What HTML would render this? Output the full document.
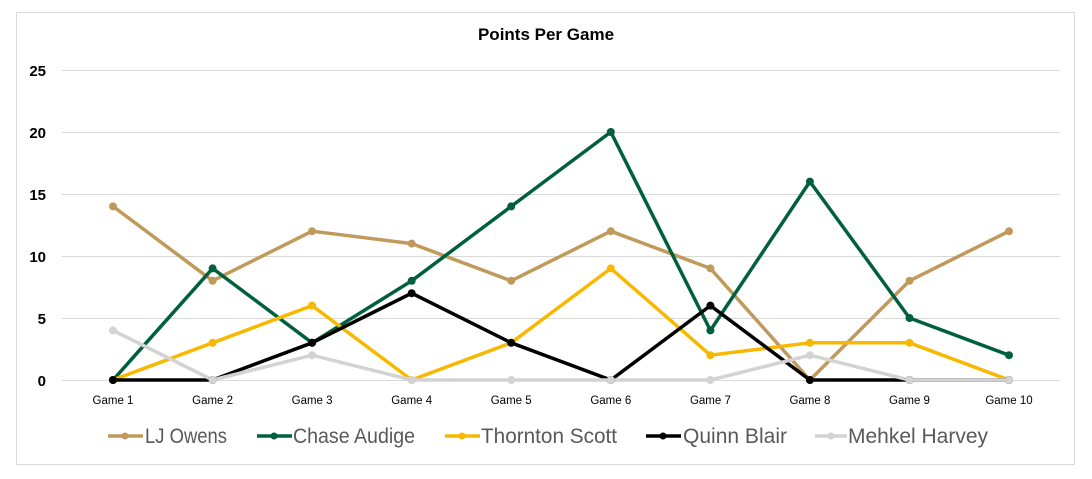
<!DOCTYPE html>
<html><head><meta charset="utf-8"><style>
body{margin:0;background:#fff;}
svg{display:block;font-family:"Liberation Sans",Calibri,sans-serif;}
</style></head><body>
<svg width="1092" height="479" viewBox="0 0 1092 479" xmlns="http://www.w3.org/2000/svg">
<rect x="0" y="0" width="1092" height="479" fill="#fff"/>
<rect x="16.5" y="12.5" width="1058" height="452" fill="#fff" stroke="#d9d9d9" stroke-width="1"/>
<text x="546" y="40" text-anchor="middle" font-size="17" font-weight="bold" fill="#000">Points Per Game</text>
<g stroke="#d9d9d9" stroke-width="1">
<line x1="62" y1="70.5" x2="1060" y2="70.5"/>
<line x1="62" y1="132.5" x2="1060" y2="132.5"/>
<line x1="62" y1="194.5" x2="1060" y2="194.5"/>
<line x1="62" y1="256.5" x2="1060" y2="256.5"/>
<line x1="62" y1="318.5" x2="1060" y2="318.5"/>
<line x1="62" y1="380.5" x2="1060" y2="380.5"/>
</g>
<g font-size="15" font-weight="bold" text-anchor="end" fill="#000">
<text x="46" y="76">25</text><text x="46" y="138">20</text><text x="46" y="200">15</text>
<text x="46" y="262">10</text><text x="46" y="324">5</text><text x="46" y="386">0</text>
</g>
<g font-size="11.5" text-anchor="middle" fill="#000">
<text x="113" y="404">Game 1</text><text x="212.6" y="404">Game 2</text><text x="312.1" y="404">Game 3</text>
<text x="411.7" y="404">Game 4</text><text x="511.2" y="404">Game 5</text><text x="610.8" y="404">Game 6</text>
<text x="710.4" y="404">Game 7</text><text x="809.9" y="404">Game 8</text><text x="909.5" y="404">Game 9</text>
<text x="1009" y="404">Game 10</text>
</g>
<g fill="none" stroke-width="3.5" stroke-linejoin="round">
<polyline stroke="#C09A5B" points="113,206.4 212.6,280.8 312.1,231.2 411.7,243.6 511.2,280.8 610.8,231.2 710.4,268.4 809.9,380 909.5,280.8 1009,231.2"/>
<polyline stroke="#00603E" points="113,380 212.6,268.4 312.1,342.8 411.7,280.8 511.2,206.4 610.8,132 710.4,330.4 809.9,181.6 909.5,318 1009,355.2"/>
<polyline stroke="#F9B800" points="113,380 212.6,342.8 312.1,305.6 411.7,380 511.2,342.8 610.8,268.4 710.4,355.2 809.9,342.8 909.5,342.8 1009,380"/>
<polyline stroke="#000" points="113,380 212.6,380 312.1,342.8 411.7,293.2 511.2,342.8 610.8,380 710.4,305.6 809.9,380 909.5,380 1009,380"/>
<polyline stroke="#D3D3D3" points="113,330.4 212.6,380 312.1,355.2 411.7,380 511.2,380 610.8,380 710.4,380 809.9,355.2 909.5,380 1009,380"/>
</g>
<g fill="#C09A5B"><circle cx="113" cy="206.4" r="4"/><circle cx="212.6" cy="280.8" r="4"/><circle cx="312.1" cy="231.2" r="4"/><circle cx="411.7" cy="243.6" r="4"/><circle cx="511.2" cy="280.8" r="4"/><circle cx="610.8" cy="231.2" r="4"/><circle cx="710.4" cy="268.4" r="4"/><circle cx="809.9" cy="380" r="4"/><circle cx="909.5" cy="280.8" r="4"/><circle cx="1009" cy="231.2" r="4"/></g>
<g fill="#00603E"><circle cx="113" cy="380" r="4"/><circle cx="212.6" cy="268.4" r="4"/><circle cx="312.1" cy="342.8" r="4"/><circle cx="411.7" cy="280.8" r="4"/><circle cx="511.2" cy="206.4" r="4"/><circle cx="610.8" cy="132" r="4"/><circle cx="710.4" cy="330.4" r="4"/><circle cx="809.9" cy="181.6" r="4"/><circle cx="909.5" cy="318" r="4"/><circle cx="1009" cy="355.2" r="4"/></g>
<g fill="#F9B800"><circle cx="113" cy="380" r="4"/><circle cx="212.6" cy="342.8" r="4"/><circle cx="312.1" cy="305.6" r="4"/><circle cx="411.7" cy="380" r="4"/><circle cx="511.2" cy="342.8" r="4"/><circle cx="610.8" cy="268.4" r="4"/><circle cx="710.4" cy="355.2" r="4"/><circle cx="809.9" cy="342.8" r="4"/><circle cx="909.5" cy="342.8" r="4"/><circle cx="1009" cy="380" r="4"/></g>
<g fill="#000"><circle cx="113" cy="380" r="4"/><circle cx="212.6" cy="380" r="4"/><circle cx="312.1" cy="342.8" r="4"/><circle cx="411.7" cy="293.2" r="4"/><circle cx="511.2" cy="342.8" r="4"/><circle cx="610.8" cy="380" r="4"/><circle cx="710.4" cy="305.6" r="4"/><circle cx="809.9" cy="380" r="4"/><circle cx="909.5" cy="380" r="4"/><circle cx="1009" cy="380" r="4"/></g>
<g fill="#D3D3D3"><circle cx="113" cy="330.4" r="4"/><circle cx="212.6" cy="380" r="4"/><circle cx="312.1" cy="355.2" r="4"/><circle cx="411.7" cy="380" r="4"/><circle cx="511.2" cy="380" r="4"/><circle cx="610.8" cy="380" r="4"/><circle cx="710.4" cy="380" r="4"/><circle cx="809.9" cy="355.2" r="4"/><circle cx="909.5" cy="380" r="4"/><circle cx="1009" cy="380" r="4"/></g>
<g stroke-width="3.5" font-size="21" fill="#595959">
<line x1="108" y1="436" x2="143" y2="436" stroke="#C09A5B"/><circle cx="125" cy="436" r="3.5" fill="#C09A5B"/>
<text x="145" y="443" textLength="82" lengthAdjust="spacingAndGlyphs">LJ Owens</text>
<line x1="257" y1="436" x2="292" y2="436" stroke="#00603E"/><circle cx="274" cy="436" r="3.5" fill="#00603E"/>
<text x="293" y="443" textLength="122" lengthAdjust="spacingAndGlyphs">Chase Audige</text>
<line x1="445" y1="436" x2="480" y2="436" stroke="#F9B800"/><circle cx="462" cy="436" r="3.5" fill="#F9B800"/>
<text x="481" y="443" textLength="136" lengthAdjust="spacingAndGlyphs">Thornton Scott</text>
<line x1="646" y1="436" x2="681" y2="436" stroke="#000"/><circle cx="663" cy="436" r="3.5" fill="#000"/>
<text x="683" y="443" textLength="104" lengthAdjust="spacingAndGlyphs">Quinn Blair</text>
<line x1="815" y1="436" x2="847" y2="436" stroke="#D3D3D3"/><circle cx="831" cy="436" r="3.5" fill="#D3D3D3"/>
<text x="848" y="443" textLength="140" lengthAdjust="spacingAndGlyphs">Mehkel Harvey</text>
</g>
</svg>
</body></html>
